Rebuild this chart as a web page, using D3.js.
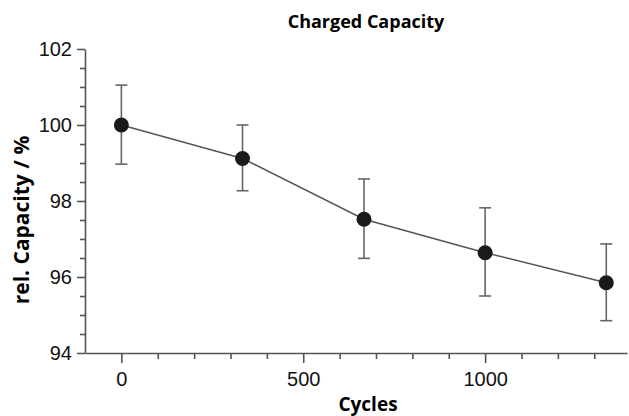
<!DOCTYPE html>
<html>
<head>
<meta charset="utf-8">
<script src="https://cdn.jsdelivr.net/npm/d3@7"></script>
<style>
  body { margin: 0; background: #fff; }
  svg { display: block; font-family: "Open Sans", sans-serif; }
</style>
</head>
<body>
<div id="container"></div>
<script>
const WIDTH = 629,
  HEIGHT = 416;

// Data
const cycles = [0, 333, 667, 1000, 1333];
const capacity = [100.0, 99.12, 97.52, 96.64, 95.85];
const errHigh = [101.05, 100.0, 98.58, 97.82, 96.87];
const errLow = [98.97, 98.27, 96.49, 95.5, 94.85];

const xTicks = [0, 500, 1000];
const xMinor = [100, 200, 300, 400, 600, 700, 800, 900, 1100, 1200, 1300];
const yTicks = [94, 96, 98, 100, 102];
const yMinor = [94.5, 95, 95.5, 96.5, 97, 97.5, 98.5, 99, 99.5, 100.5, 101, 101.5];

const data = cycles.map((c, i) => ({
  x: c, y: capacity[i], hi: errHigh[i], lo: errLow[i]
}));

const svg = d3.select("#container")
  .append("svg")
  .attr("width", WIDTH)
  .attr("height", HEIGHT);

// Scales
const xScale = d3.scaleLinear()
  .domain([-100, 1390])
  .range([85, 627]);

const yScale = d3.scaleLinear()
  .domain([94, 102])
  .range([353, 49]);

const AXIS_COLOR = "#555";

// x axis
svg.append("g")
  .attr("transform", `translate(0, ${yScale(94)})`)
  .call(d3.axisBottom(xScale).tickValues(xTicks).tickFormat(d3.format("d"))
    .tickSize(10).tickPadding(9).tickSizeOuter(0));

svg.append("g")
  .attr("transform", `translate(0, ${yScale(94)})`)
  .call(d3.axisBottom(xScale).tickValues(xMinor).tickSize(6).tickFormat("").tickSizeOuter(0))
  .select(".domain").remove();

// y axis
svg.append("g")
  .attr("transform", `translate(${xScale(-100)}, 0)`)
  .call(d3.axisLeft(yScale).tickValues(yTicks).tickSize(8).tickPadding(5).tickSizeOuter(0));

svg.append("g")
  .attr("transform", `translate(${xScale(-100)}, 0)`)
  .call(d3.axisLeft(yScale).tickValues(yMinor).tickSize(5).tickFormat("").tickSizeOuter(0))
  .select(".domain").remove();

svg.selectAll(".domain, .tick line")
  .attr("stroke", AXIS_COLOR)
  .attr("stroke-width", 1.6);

svg.selectAll(".tick text")
  .attr("fill", "#111")
  .attr("font-size", 20)
  .style("font-size", "20px");

// connecting line
svg.append("path")
  .datum(data)
  .attr("fill", "none")
  .attr("stroke", "#555")
  .attr("stroke-width", 1.5)
  .attr("d", d3.line().x(d => xScale(d.x)).y(d => yScale(d.y)));

// error bars
const CAP = 6;
const err = svg.selectAll(".err")
  .data(data)
  .join("g")
  .attr("class", "err")
  .attr("stroke", "#666")
  .attr("stroke-width", 1.6);

err.append("line")
  .attr("x1", d => xScale(d.x)).attr("x2", d => xScale(d.x))
  .attr("y1", d => yScale(d.hi)).attr("y2", d => yScale(d.lo));
err.append("line")
  .attr("x1", d => xScale(d.x) - CAP).attr("x2", d => xScale(d.x) + CAP)
  .attr("y1", d => yScale(d.hi)).attr("y2", d => yScale(d.hi));
err.append("line")
  .attr("x1", d => xScale(d.x) - CAP).attr("x2", d => xScale(d.x) + CAP)
  .attr("y1", d => yScale(d.lo)).attr("y2", d => yScale(d.lo));

// points
svg.selectAll(".dot")
  .data(data)
  .join("circle")
  .attr("class", "dot")
  .attr("cx", d => xScale(d.x))
  .attr("cy", d => yScale(d.y))
  .attr("r", 7.5)
  .attr("fill", "#1a1a1a");

// titles
svg.append("text")
  .attr("x", 366)
  .attr("y", 28)
  .attr("text-anchor", "middle")
  .style("font-weight", "bold")
  .style("font-size", "18px")
  .text("Charged Capacity");

svg.append("text")
  .attr("x", 368)
  .attr("y", 411)
  .attr("text-anchor", "middle")
  .style("font-weight", "bold")
  .style("font-size", "19px")
  .text("Cycles");

svg.append("text")
  .attr("transform", "translate(29, 220) rotate(-90)")
  .attr("text-anchor", "middle")
  .style("font-weight", "bold")
  .style("font-size", "21px")
  .text("rel. Capacity / %");
</script>
</body>
</html>
